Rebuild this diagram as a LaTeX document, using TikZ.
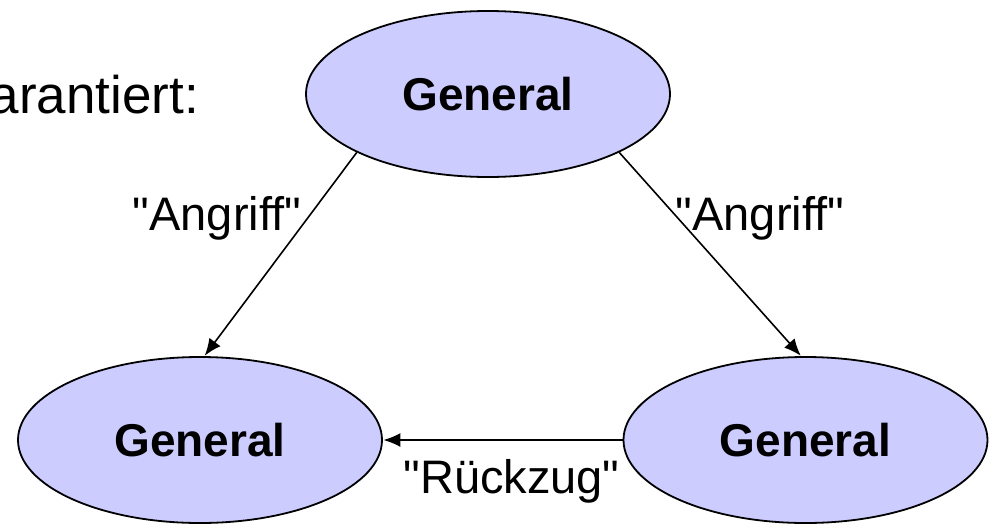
\documentclass[tikz,border=0pt]{standalone}
\usepackage{fontspec}
\setmainfont{Liberation Sans}
\usetikzlibrary{shapes.geometric,arrows.meta}
\definecolor{genfill}{RGB}{204,204,255}
\tikzset{
  general/.style={ellipse, draw=black, line width=1.8pt, fill=genfill, inner sep=0pt,
    minimum width=364pt, minimum height=166pt,
    font=\fontsize{46}{55}\selectfont\bfseries},
  msg/.style={-{Latex[length=17pt,width=14pt]}, line width=1.6pt, shorten >=0.5pt},
  lbl/.style={anchor=base, inner sep=0pt, font=\fontsize{47}{56}\selectfont},
}
\begin{document}
\begin{tikzpicture}[x=1pt,y=-1pt]
\useasboundingbox (0,0) rectangle (997,523);
\clip (0,0) rectangle (997,523);
\node[anchor=base east, inner sep=0pt, font=\fontsize{53}{62}\selectfont] (intro) at (199,113) {arantiert:};
\node[general] (top) at (488,94) {General};
\node[general] (bl) at (200,440) {General};
\node[general] (br) at (805.5,440) {General};
\draw[msg] (top.204) -- (bl.87);
\draw[msg] (top.336) -- (br.93);
\draw[msg] (br.west) -- (bl.east);
\node[lbl] (la) at (217,230) {\textquotedbl Angriff\textquotedbl};
\node[lbl] (ra) at (760,230) {\textquotedbl Angriff\textquotedbl};
\node[lbl] (rz) at (511.5,493) {\textquotedbl Rückzug\textquotedbl};
\end{tikzpicture}
\end{document}
